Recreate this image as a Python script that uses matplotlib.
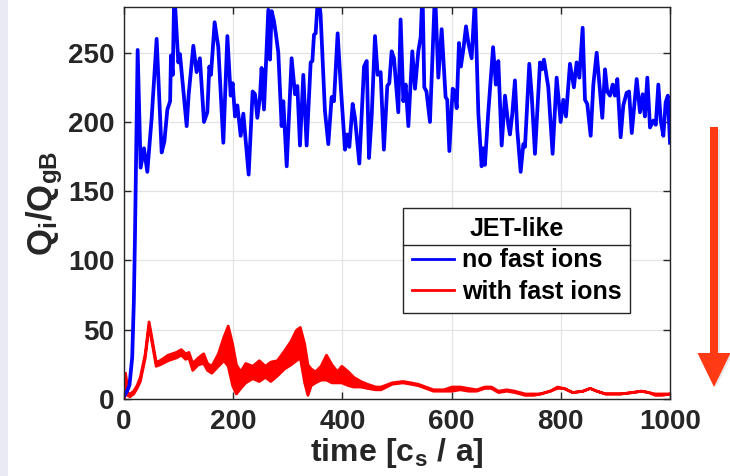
import matplotlib

matplotlib.use("Agg")
import matplotlib.pyplot as plt
from matplotlib.lines import Line2D
from matplotlib.patches import FancyArrow, Rectangle

# blue: no fast ions
blue_t = [0, 5, 10, 15, 18, 20, 22, 25, 30.5, 36.6, 42.7, 50.7, 59.8, 69, 74, 79.4, 84.5, 86, 89.3, 92,
          99.5, 102.5, 114.8, 118.5, 127, 133, 139, 146.5, 152.6, 156.3, 159.3, 166, 172.7, 181.9, 189.3,
          195.4, 199, 203.3, 207.6, 213.7, 218.6, 223.4, 228.3, 235.6, 240, 244.2, 249, 252, 256.4, 264.3,
          267.4, 270.4, 274.6, 278.4, 282.6, 288.7, 291.8, 298, 307, 313.2, 317.5, 322.3, 328.4, 334.5,
          341.9, 345, 348, 351, 355.5, 360, 368, 374.2, 380.3, 384.6, 391.3, 396.8, 404.8, 409, 412.7,
          418.8, 423, 431, 439.6, 444.5, 448.7, 453.6, 459.7, 464.6, 470, 476, 482.2, 485.9, 490.2, 494.5,
          502.4, 506.6, 511.6, 515.9, 520.8, 528, 533, 539, 543.3, 546.7, 550, 554, 560.4, 569.6, 575.7,
          581.8, 589, 592, 595.9, 602, 606, 609.3, 613.5, 617, 621.4, 626.4, 630.7, 636.7, 642.9, 649,
          655, 658, 661, 667, 676, 681, 685.6, 691.7, 697.8, 703.9, 706.9, 711.2, 716, 720.3, 726.5,
          731.4, 734.4, 742.3, 746.6, 752.7, 761.9, 765.5, 769.2, 777.1, 785, 792.4, 799.7, 804.6, 809.5,
          816.8, 824, 829, 834, 840, 844.3, 848.5, 854.7, 859.6, 865.7, 871.8, 876, 881, 885, 890, 895,
          899, 903.5, 909.6, 914.5, 920.6, 925, 930, 939, 945, 950, 954, 958.5, 963.4, 969.5, 974, 978.6,
          983, 987.8, 992, 996, 1000]
blue_q = [2, 5, 10, 30, 70, 115, 170, 252, 167, 181, 164, 203, 260, 178, 186, 209, 215, 248, 234, 295,
          243, 249, 197, 220, 255, 236, 246, 200, 207, 240, 234, 272, 254, 185, 262,
          219, 228, 204, 212, 190, 206, 184, 162, 222, 220, 203, 218, 239, 209, 281,
          245, 280, 273, 263, 250, 197, 215, 168, 246, 220, 226, 183, 234, 183,
          243, 244, 263, 264, 292, 278, 208, 184, 218, 215, 264, 227, 180, 191, 182,
          213, 203, 170, 240, 244, 174, 204, 262, 234, 236, 180, 226, 228, 251, 246,
          207, 274, 215, 227, 197, 251, 224, 251, 261, 295, 225, 222, 200, 295, 232,
          267, 218, 216, 179, 224, 222, 210, 257, 240, 252, 269, 257, 246, 290, 206,
          168, 181, 169, 206, 254, 227, 244, 183, 219, 198, 191, 206, 230, 194, 164,
          184, 182, 242, 220, 177, 243, 238, 245, 225, 177, 232, 200, 216, 204,
          242, 225, 243, 232, 268, 216, 213, 190, 227, 250, 222, 203, 238, 222, 219, 227,
          219, 231, 189, 212, 221, 222, 192, 231, 207, 220, 204, 232, 196, 201, 198, 227,
          201, 190, 214, 219, 185]

# red: with fast ions (lower / upper edge of the noisy trace)
red_t = [0, 2, 5, 10, 17, 23, 29, 38, 45, 50, 58, 65, 80, 95, 104, 112, 118, 125, 135, 145, 152, 160,
         172, 182, 190, 198, 205, 213, 222, 235, 247, 258, 268, 280, 293, 305, 315, 322, 330, 336, 342,
         350, 360, 370, 380, 390, 398, 410, 420, 433, 445, 460, 470, 490, 510, 525, 538, 552, 566, 585,
         600, 615, 630, 645, 660, 672, 685, 700, 715, 734, 750, 762, 780, 793, 805, 821, 840, 853, 865,
         881, 909, 930, 947, 960, 972, 985, 1000]
red_lo = [0, 18, 3, 2, 4, 8, 13, 30, 53, 42, 24, 25, 28, 30, 32, 29, 30, 21, 25, 26, 21, 19,
          24, 28, 24, 10, 4, 8, 12, 15, 13, 16, 13, 17, 22, 25, 28, 30, 12, 3, 10,
          12, 14, 14, 12, 12, 12, 10, 9, 9, 8, 7, 7, 11, 12, 11, 10, 8, 6, 6,
          6, 7, 6, 6, 8, 8, 5, 6, 5, 3, 3, 4, 6, 8, 8, 5, 6, 8, 6,
          4, 4, 5, 6, 5, 3, 3, 4]
red_hi = [0, 19, 5, 4, 6, 10, 16, 33, 56, 45, 27, 28, 32, 34, 36, 33, 34, 26, 30, 33, 26, 24,
          33, 45, 53, 40, 25, 20, 26, 24, 28, 24, 27, 28, 35, 42, 50, 52, 40, 25, 22,
          20, 24, 32, 25, 20, 24, 20, 16, 13, 11, 9, 9, 12, 13, 12, 11, 9, 7, 7,
          9, 9, 8, 7, 9, 9, 6, 7, 6, 4, 4, 4, 6, 9, 8, 5, 6, 8, 6,
          4, 4, 5, 6, 5, 4, 4, 4]

x_ticks = [0, 200, 400, 600, 800, 1000]
y_ticks = [0, 50, 100, 150, 200, 250]

plt.rcParams["font.family"] = ["Liberation Sans", "DejaVu Sans"]
plt.rcParams["font.weight"] = "bold"
plt.rcParams["mathtext.fontset"] = "custom"
plt.rcParams["mathtext.rm"] = "Liberation Sans:bold"
plt.rcParams["mathtext.bf"] = "Liberation Sans:bold"
plt.rcParams["mathtext.it"] = "Liberation Sans:bold"

fig = plt.figure(figsize=(7.3, 4.76), dpi=100)
ax = fig.add_axes([124 / 730, 77 / 476, 546 / 730, 392 / 476])

ax.plot(blue_t, blue_q, color="#0000ff", lw=2.7)
ax.fill_between(red_t, red_lo, red_hi, color="#ff0000", lw=2, edgecolor="#ff0000")

ax.set_xlim(0, 1000)
ax.set_ylim(0, 283)
ax.set_xticks(x_ticks)
ax.set_yticks(y_ticks)
ax.grid(True, color="#e3e3e3", lw=0.9)
ax.set_axisbelow(True)
ax.tick_params(direction="in", length=5, width=1, top=True, right=True, colors="#262626",
               labelsize=20, pad=7)
for s in ax.spines.values():
    s.set_color("#262626")
    s.set_linewidth(1)

ax.set_xlabel(r"$\mathbf{time\ [c_s\ /\ a]}$", fontsize=23, color="#262626", labelpad=1)
ax.set_ylabel(r"$\mathbf{Q_i/Q_{gB}}$", fontsize=25, color="#262626", labelpad=2)

handles = [Line2D([], [], color="#0000ff", lw=2), Line2D([], [], color="#ff0000", lw=2)]
leg = ax.legend(handles, ["no fast ions", "with fast ions"], title="JET-like",
                loc="upper left", bbox_to_anchor=(0.511, 0.487), fancybox=False, framealpha=1,
                edgecolor="#262626", prop={"size": 18, "weight": "bold"}, title_fontsize=18,
                handlelength=1.7, handletextpad=0.3, borderpad=0.35, labelspacing=0.3,
                borderaxespad=0)
leg.get_title().set_fontweight("bold")
leg.get_frame().set_linewidth(1)

# separator under the legend title
fig.canvas.draw()
lb = leg.get_window_extent()
tb = leg.get_title().get_window_extent()
ysep = tb.y0 - 4
fig.add_artist(Line2D([lb.x0, lb.x1], [ysep, ysep], transform=None, color="#262626", lw=1))

# slide edge at the left
fig.add_artist(Rectangle((0, 0), 8 / 730, 1, transform=fig.transFigure, color="#eaeaf3", lw=0))

# red arrow at the right
fig.add_artist(FancyArrow(7.16, 3.47, 0, -2.58, width=0.08, head_width=0.34, head_length=0.34,
                          length_includes_head=True, transform=fig.dpi_scale_trans,
                          color="#d0d0d0", alpha=0.5, lw=0))
fig.add_artist(FancyArrow(7.14, 3.49, 0, -2.60, width=0.08, head_width=0.33, head_length=0.34,
                          length_includes_head=True, transform=fig.dpi_scale_trans,
                          color="#ff3a14", lw=0))

fig.savefig("out.png", dpi=100)
